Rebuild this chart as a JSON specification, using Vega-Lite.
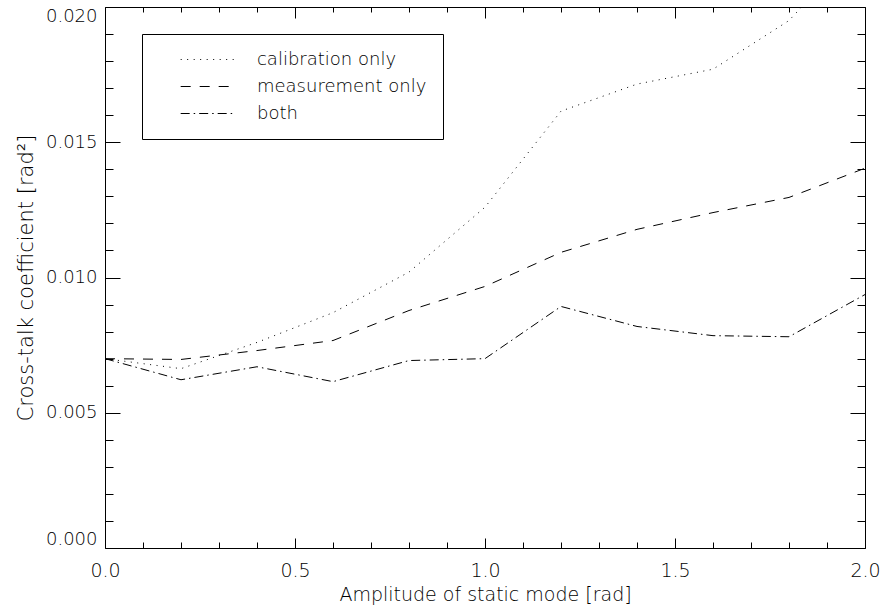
{
  "$schema": "https://vega.github.io/schema/vega-lite/v6.json",
  "width": 760,
  "height": 541,
  "autosize": "none",
  "padding": {"left": 105, "top": 7, "right": 16, "bottom": 59},
  "background": "white",
  "data": {
    "values": [
      {"x": 0.0, "value": 0.0070, "series": "calibration only"},
      {"x": 0.2, "value": 0.00663, "series": "calibration only"},
      {"x": 0.4, "value": 0.0076, "series": "calibration only"},
      {"x": 0.6, "value": 0.0087, "series": "calibration only"},
      {"x": 0.8, "value": 0.0102, "series": "calibration only"},
      {"x": 1.0, "value": 0.0126, "series": "calibration only"},
      {"x": 1.2, "value": 0.01615, "series": "calibration only"},
      {"x": 1.4, "value": 0.01715, "series": "calibration only"},
      {"x": 1.6, "value": 0.0177, "series": "calibration only"},
      {"x": 1.8, "value": 0.0195, "series": "calibration only"},
      {"x": 2.0, "value": 0.0225, "series": "calibration only"},
      {"x": 0.0, "value": 0.0070, "series": "measurement only"},
      {"x": 0.2, "value": 0.00697, "series": "measurement only"},
      {"x": 0.4, "value": 0.0073, "series": "measurement only"},
      {"x": 0.6, "value": 0.00767, "series": "measurement only"},
      {"x": 0.8, "value": 0.00878, "series": "measurement only"},
      {"x": 1.0, "value": 0.00967, "series": "measurement only"},
      {"x": 1.2, "value": 0.01093, "series": "measurement only"},
      {"x": 1.4, "value": 0.01178, "series": "measurement only"},
      {"x": 1.6, "value": 0.0124, "series": "measurement only"},
      {"x": 1.8, "value": 0.01296, "series": "measurement only"},
      {"x": 2.0, "value": 0.01404, "series": "measurement only"},
      {"x": 0.0, "value": 0.0070, "series": "both"},
      {"x": 0.2, "value": 0.00622, "series": "both"},
      {"x": 0.4, "value": 0.0067, "series": "both"},
      {"x": 0.6, "value": 0.00615, "series": "both"},
      {"x": 0.8, "value": 0.00693, "series": "both"},
      {"x": 1.0, "value": 0.0070, "series": "both"},
      {"x": 1.2, "value": 0.00893, "series": "both"},
      {"x": 1.4, "value": 0.00819, "series": "both"},
      {"x": 1.6, "value": 0.00785, "series": "both"},
      {"x": 1.8, "value": 0.00781, "series": "both"},
      {"x": 2.0, "value": 0.00937, "series": "both"}
    ]
  },
  "layer": [
    {
      "mark": {"type": "line", "clip": true, "color": "black", "strokeWidth": 1},
      "encoding": {
        "x": {
          "field": "x", "type": "quantitative",
          "scale": {"domain": [0, 2], "nice": false, "zero": false},
          "axis": {
            "orient": "bottom", "values": [0, 0.5, 1, 1.5, 2], "format": ".1f",
            "tickSize": -10, "labelPadding": 23, "labelFlush": false, "labelOverlap": false,
            "labelFontSize": 19,
            "title": "Amplitude of static mode [rad]", "titlePadding": 5, "titleFontSize": 19
          }
        },
        "y": {
          "field": "value", "type": "quantitative",
          "scale": {"domain": [0, 0.02], "nice": false, "zero": false},
          "axis": {
            "orient": "left", "values": [0, 0.005, 0.01, 0.015, 0.02], "format": ".3f",
            "tickSize": -15, "labelPadding": 23, "labelFlush": true, "labelOverlap": false,
            "title": "Cross-talk coefficient [rad²]", "titlePadding": 9, "titleFontSize": 21
          }
        },
        "strokeDash": {
          "field": "series", "type": "nominal",
          "scale": {
            "domain": ["calibration only", "measurement only", "both"],
            "range": [[1, 5.5], [10, 9], [9, 4, 1.5, 4]]
          },
          "legend": {
            "orient": "none", "legendX": 37, "legendY": 27, "title": null,
            "strokeColor": "black", "fillColor": "white", "padding": 16,
            "symbolType": "M-3,0H3", "symbolSize": 312, "symbolOffset": 39.67,
            "labelOffset": 40.3, "labelLimit": 400, "rowPadding": 8,
            "symbolStrokeColor": "black", "symbolStrokeWidth": 1,
            "labelFont": "DejaVu Sans", "labelFontSize": 18, "labelFontWeight": 200, "labelColor": "black"
          }
        }
      }
    },
    {
      "mark": {"type": "point", "opacity": 0},
      "encoding": {
        "x": {
          "field": "x", "type": "quantitative",
          "scale": {"domain": [0, 2], "nice": false, "zero": false},
          "axis": {
            "orient": "bottom",
            "values": [0.1, 0.2, 0.3, 0.4, 0.6, 0.7, 0.8, 0.9, 1.1, 1.2, 1.3, 1.4, 1.6, 1.7, 1.8, 1.9],
            "tickSize": -6, "labels": false, "title": null
          }
        },
        "y": {
          "field": "value", "type": "quantitative",
          "scale": {"domain": [0, 0.02], "nice": false, "zero": false},
          "axis": {
            "orient": "left",
            "values": [0.001, 0.002, 0.003, 0.004, 0.006, 0.007, 0.008, 0.009, 0.011, 0.012, 0.013, 0.014, 0.016, 0.017, 0.018, 0.019],
            "tickSize": -8, "labels": false, "title": null
          }
        }
      }
    },
    {
      "mark": {"type": "point", "opacity": 0},
      "encoding": {
        "x": {
          "field": "x", "type": "quantitative",
          "scale": {"domain": [0, 2], "nice": false, "zero": false},
          "axis": {
            "orient": "top", "values": [0, 0.5, 1, 1.5, 2],
            "tickSize": -11, "labels": false, "title": null
          }
        },
        "y": {
          "field": "value", "type": "quantitative",
          "scale": {"domain": [0, 0.02], "nice": false, "zero": false},
          "axis": {
            "orient": "right", "values": [0, 0.005, 0.01, 0.015, 0.02],
            "tickSize": -15, "labels": false, "title": null
          }
        }
      }
    },
    {
      "mark": {"type": "point", "opacity": 0},
      "encoding": {
        "x": {
          "field": "x", "type": "quantitative",
          "scale": {"domain": [0, 2], "nice": false, "zero": false},
          "axis": {
            "orient": "top",
            "values": [0.1, 0.2, 0.3, 0.4, 0.6, 0.7, 0.8, 0.9, 1.1, 1.2, 1.3, 1.4, 1.6, 1.7, 1.8, 1.9],
            "tickSize": -5, "labels": false, "title": null
          }
        },
        "y": {
          "field": "value", "type": "quantitative",
          "scale": {"domain": [0, 0.02], "nice": false, "zero": false},
          "axis": {
            "orient": "right",
            "values": [0.001, 0.002, 0.003, 0.004, 0.006, 0.007, 0.008, 0.009, 0.011, 0.012, 0.013, 0.014, 0.016, 0.017, 0.018, 0.019],
            "tickSize": -8, "labels": false, "title": null
          }
        }
      }
    }
  ],
  "resolve": {"axis": {"x": "independent", "y": "independent"}},
  "config": {
    "view": {"stroke": "black", "strokeWidth": 1},
    "axis": {
      "domain": false, "grid": false,
      "tickColor": "black", "tickWidth": 1,
      "labelFont": "DejaVu Sans", "labelFontSize": 18, "labelFontWeight": 200, "labelColor": "black",
      "titleFont": "DejaVu Sans", "titleFontSize": 18, "titleFontWeight": 200, "titleColor": "black"
    }
  }
}
